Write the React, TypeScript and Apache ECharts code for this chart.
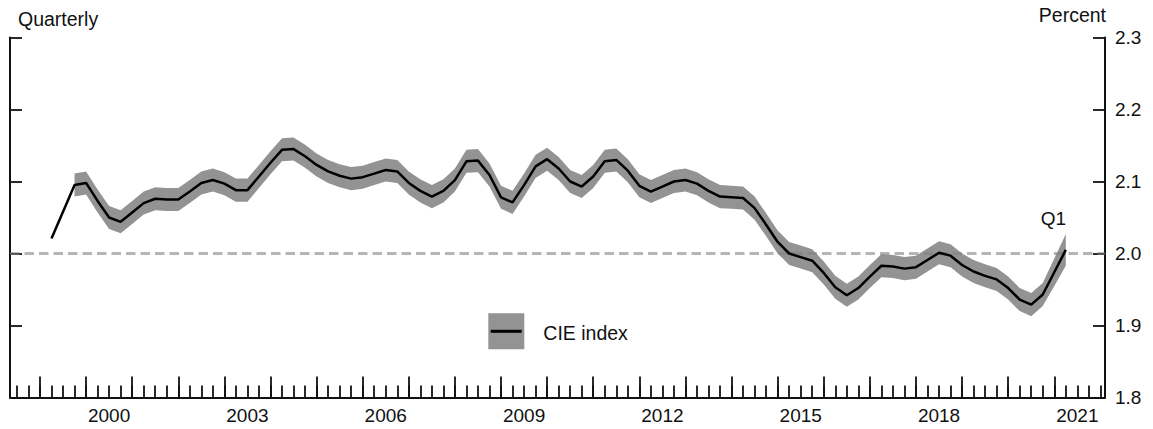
import React, { useEffect, useRef } from "react";
import * as echarts from "echarts";

// ---- Data ----
const FIRST_YEAR = 1999; // series starts 1999 Q1
const cie: number[] = [
  2.021, 2.058, 2.095, 2.098,
  2.073, 2.050, 2.044, 2.057,
  2.070, 2.076, 2.075, 2.075,
  2.086, 2.098, 2.102, 2.097,
  2.088, 2.088, 2.107, 2.126,
  2.144, 2.145, 2.135, 2.123,
  2.114, 2.108, 2.104, 2.106,
  2.111, 2.116, 2.114, 2.098,
  2.087, 2.079, 2.087, 2.102,
  2.128, 2.129, 2.109, 2.078,
  2.071, 2.095, 2.121, 2.131,
  2.118, 2.100, 2.093, 2.107,
  2.128, 2.130, 2.115, 2.094,
  2.086, 2.093, 2.100, 2.102,
  2.097, 2.087, 2.079, 2.078,
  2.077, 2.063, 2.040, 2.016,
  2.000, 1.995, 1.990, 1.973,
  1.953, 1.942, 1.952, 1.968,
  1.983, 1.982, 1.979, 1.981,
  1.991, 2.001, 1.997, 1.984,
  1.975, 1.969, 1.964, 1.952,
  1.936, 1.929, 1.943, 1.974,
  2.005,
];
const bandLower: (number | null)[] = [
  null, null, 2.079, 2.082,
  2.057, 2.034, 2.028, 2.041,
  2.054, 2.060, 2.059, 2.059,
  2.070, 2.082, 2.086, 2.081,
  2.072, 2.072, 2.091, 2.110,
  2.128, 2.129, 2.119, 2.107,
  2.098, 2.092, 2.088, 2.090,
  2.095, 2.100, 2.098, 2.082,
  2.071, 2.063, 2.071, 2.086,
  2.112, 2.113, 2.093, 2.062,
  2.055, 2.079, 2.105, 2.115,
  2.102, 2.084, 2.077, 2.091,
  2.112, 2.114, 2.099, 2.078,
  2.070, 2.077, 2.084, 2.086,
  2.081, 2.071, 2.063, 2.062,
  2.061, 2.047, 2.024, 2.000,
  1.984, 1.979, 1.974, 1.957,
  1.937, 1.926, 1.936, 1.952,
  1.967, 1.966, 1.963, 1.965,
  1.975, 1.985, 1.981, 1.968,
  1.959, 1.953, 1.948, 1.936,
  1.920, 1.913, 1.927, 1.955,
  1.983,
];
const bandUpper: (number | null)[] = [
  null, null, 2.111, 2.114,
  2.089, 2.066, 2.060, 2.073,
  2.086, 2.092, 2.091, 2.091,
  2.102, 2.114, 2.118, 2.113,
  2.104, 2.104, 2.123, 2.142,
  2.160, 2.161, 2.151, 2.139,
  2.130, 2.124, 2.120, 2.122,
  2.127, 2.132, 2.130, 2.114,
  2.103, 2.095, 2.103, 2.118,
  2.144, 2.145, 2.125, 2.094,
  2.087, 2.111, 2.137, 2.147,
  2.134, 2.116, 2.109, 2.123,
  2.144, 2.146, 2.131, 2.110,
  2.102, 2.109, 2.116, 2.118,
  2.113, 2.103, 2.095, 2.094,
  2.093, 2.079, 2.056, 2.032,
  2.016, 2.011, 2.006, 1.989,
  1.969, 1.958, 1.968, 1.984,
  1.999, 1.998, 1.995, 1.997,
  2.007, 2.017, 2.013, 2.000,
  1.991, 1.985, 1.980, 1.968,
  1.952, 1.945, 1.959, 1.993,
  2.027,
];
const xLabelYears = [2000, 2003, 2006, 2009, 2012, 2015, 2018, 2021];
const yMin = 1.8;
const yMax = 2.3;
const yStep = 0.1;
const referenceLevel = 2.0;
const lastLabel = "Q1";
const legendName = "CIE index";

// quarter categories, placed at the end of each quarter on a time-in-years axis
const quarters = cie.map((_, i) => `${FIRST_YEAR + Math.floor(i / 4)}Q${(i % 4) + 1}`);
const quarterPos = (q: string) => Number(q.slice(0, 4)) + Number(q.slice(5)) / 4;

const X_MIN = 1998.35;
const X_MAX = 2022.1;
const quarterTicks: number[] = [];
for (let k = 0; 1998.5 + k * 0.25 <= 2022.0001; k++) quarterTicks.push(1998.5 + k * 0.25);
const yearTicks: number[] = [];
for (let y = 1999; y <= 2021; y++) yearTicks.push(y);

const FONT = "'Liberation Sans', Arial, Helvetica, sans-serif";
const INK = "#111111";
const BAND = "#939393";

export default function App() {
  const ref = useRef<HTMLDivElement>(null);
  useEffect(() => {
    if (!ref.current) return;
    const chart = echarts.init(ref.current, null, { renderer: "svg" });

    const linePts = cie.map((v, i) => [quarterPos(quarters[i]), v]);
    const bandPts: number[][] = [];
    cie.forEach((_, i) => {
      const lo = bandLower[i];
      const hi = bandUpper[i];
      if (lo == null || hi == null) return;
      bandPts.push([quarterPos(quarters[i]), lo, hi]);
    });
    const last = linePts[linePts.length - 1];

    const grid = { left: 10, right: 48, top: 37.5, bottom: 31.5 };
    const tickStyle = { color: INK, width: 1.8 };

    chart.setOption({
      animation: false,
      grid: [grid, { ...grid }],
      xAxis: [
        {
          type: "value",
          gridIndex: 0,
          min: X_MIN,
          max: X_MAX,
          axisLine: { show: true, lineStyle: { color: INK, width: 2 } },
          axisTick: { show: true, inside: true, length: 12, customValues: quarterTicks, lineStyle: tickStyle },
          axisLabel: {
            show: true,
            customValues: xLabelYears.map((y) => y + 0.5),
            formatter: (v: number) => String(Math.floor(v)),
            fontSize: 19,
            fontFamily: FONT,
            color: INK,
            margin: 8,
          },
          splitLine: { show: false },
        },
        {
          type: "value",
          gridIndex: 1,
          min: X_MIN,
          max: X_MAX,
          axisLine: { show: false },
          axisTick: { show: true, inside: true, length: 21, customValues: yearTicks, lineStyle: tickStyle },
          axisLabel: { show: false },
          splitLine: { show: false },
        },
      ],
      yAxis: [
        {
          type: "value",
          gridIndex: 0,
          position: "left",
          min: yMin,
          max: yMax,
          interval: yStep,
          axisLine: { show: true, lineStyle: { color: INK, width: 2 } },
          axisTick: { show: true, inside: true, length: 12, lineStyle: tickStyle },
          axisLabel: { show: false },
          splitLine: { show: false },
        },
        {
          type: "value",
          gridIndex: 0,
          position: "right",
          min: yMin,
          max: yMax,
          interval: yStep,
          axisLine: { show: true, lineStyle: { color: INK, width: 2 } },
          axisTick: { show: true, inside: true, length: 12, lineStyle: tickStyle },
          axisLabel: {
            show: true,
            formatter: (v: number) => v.toFixed(1),
            fontSize: 19,
            fontFamily: FONT,
            color: INK,
            margin: 10,
          },
          splitLine: { show: false },
        },
        {
          type: "value",
          gridIndex: 1,
          min: yMin,
          max: yMax,
          show: false,
        },
      ],
      series: [
        {
          type: "custom",
          name: "band",
          xAxisIndex: 0,
          yAxisIndex: 1,
          silent: true,
          z: 2,
          data: bandPts,
          encode: { x: 0, y: [1, 2] },
          renderItem: (params: any, api: any) => {
            if (params.dataIndex !== 0) return null;
            const upper = bandPts.map((p) => api.coord([p[0], p[2]]));
            const lower = bandPts.map((p) => api.coord([p[0], p[1]])).reverse();
            return {
              type: "polygon",
              shape: { points: upper.concat(lower) },
              style: { fill: BAND, stroke: null },
            };
          },
        },
        {
          type: "line",
          name: legendName,
          xAxisIndex: 0,
          yAxisIndex: 1,
          data: linePts,
          symbol: "none",
          lineStyle: { color: "#000000", width: 2.5 },
          itemStyle: { color: "#000000" },
          z: 6,
          markLine: {
            silent: true,
            symbol: "none",
            z: 5,
            label: { show: false },
            lineStyle: { color: "rgba(128,128,128,0.58)", width: 3, type: [9.5, 5] },
            data: [{ yAxis: referenceLevel }],
          },
          markPoint: {
            silent: true,
            symbol: "circle",
            symbolSize: 0,
            z: 7,
            itemStyle: { color: "rgba(0,0,0,0)" },
            label: {
              show: true,
              formatter: lastLabel,
              position: "top",
              distance: 22,
              offset: [-12.5, 0],
              fontSize: 19,
              fontFamily: FONT,
              color: INK,
            },
            data: [{ coord: last }],
          },
        },
      ],
      graphic: [
        {
          type: "text",
          left: 18,
          top: 9,
          style: { text: "Quarterly", fontSize: 19.5, fontFamily: FONT, fill: INK },
        },
        {
          type: "text",
          right: 47,
          top: 4.5,
          style: { text: "Percent", fontSize: 19.5, fontFamily: FONT, fill: INK },
        },
        {
          type: "rect",
          shape: { x: 488.3, y: 313.3, width: 36, height: 36 },
          style: { fill: BAND },
        },
        {
          type: "line",
          shape: { x1: 490.7, y1: 331.3, x2: 521.7, y2: 331.3 },
          style: { stroke: "#000000", lineWidth: 3 },
        },
        {
          type: "text",
          x: 543.3,
          y: 332.5,
          style: {
            text: legendName,
            fontSize: 19.5,
            fontFamily: FONT,
            fill: INK,
            verticalAlign: "middle",
            align: "left",
          },
        },
      ],
    });
    return () => chart.dispose();
  }, []);

  return (
    <div
      ref={ref}
      style={{ position: "absolute", left: 0, top: 0, width: 1153, height: 429, background: "#ffffff" }}
    />
  );
}
